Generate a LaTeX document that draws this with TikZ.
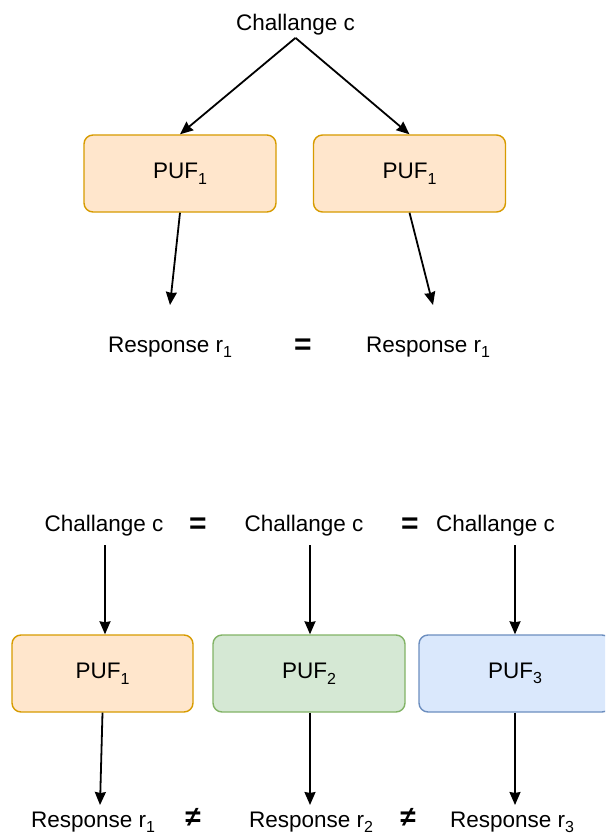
\documentclass[tikz,border=0pt]{standalone}
\usepackage{fontspec}
\setmainfont{Liberation Sans}
\usetikzlibrary{arrows.meta, positioning}

\definecolor{orangefill}{HTML}{FFE6CC}
\definecolor{orangeline}{HTML}{D79B00}
\definecolor{greenfill}{HTML}{D5E8D4}
\definecolor{greenline}{HTML}{82B366}
\definecolor{bluefill}{HTML}{DAE8FC}
\definecolor{blueline}{HTML}{6C8EBF}

\newcommand{\pufsub}[1]{\raisebox{-0.25em}{\fontsize{16}{18}\selectfont #1}}

\begin{document}
\begin{tikzpicture}[
  x=1pt, y=-1pt,
  every node/.style={font=\fontsize{22.5}{26}\selectfont, inner sep=2pt},
  label/.style={anchor=base},
  pufbox/.style={rectangle, rounded corners=9pt, line width=1.4pt,
    minimum width=192pt, minimum height=77pt},
  orangebox/.style={pufbox, fill=orangefill, draw=orangeline},
  greenbox/.style={pufbox, fill=greenfill, draw=greenline},
  bluebox/.style={pufbox, fill=bluefill, draw=blueline},
  relsign/.style={anchor=base, font=\fontsize{30}{32}\selectfont\bfseries},
  link/.style={line width=1.8pt, -{Stealth[length=13pt, width=11pt, inset=1pt]}}
]
\clip (0,0) rectangle (605,837);

% same challenge, same PUF
\node[label] (chal) at (295.5,31) {Challange c};
\node[orangebox] (pufa) at (180,173.5) {PUF\pufsub{1}};
\node[orangebox] (pufb) at (409.5,173.5) {PUF\pufsub{1}};
\node[label] (resa) at (170,352) {Response r\pufsub{1}};
\node[relsign] (eqtop) at (303,354) {=};
\node[label] (resb) at (428,352) {Response r\pufsub{1}};
\coordinate (enda) at (170,305);
\coordinate (endb) at (433,305);

\draw[link] (chal.south) -- (pufa.north);
\draw[link] (chal.south) -- (pufb.north);
\draw[link] (pufa.south) -- (enda);
\draw[link] (pufb.south) -- (endb);

% same challenge, different PUFs
\node[label] (cha) at (104,531) {Challange c};
\node[relsign] (eqa) at (198,533) {=};
\node[label] (chb) at (304,531) {Challange c};
\node[relsign] (eqb) at (410,533) {=};
\node[label] (chc) at (495.5,531) {Challange c};

\node[orangebox, minimum width=181pt] (puf1) at (102.5,673.5) {PUF\pufsub{1}};
\node[greenbox] (puf2) at (309,673.5) {PUF\pufsub{2}};
\node[bluebox] (puf3) at (515,673.5) {PUF\pufsub{3}};

\node[label] (res1) at (93,827) {Response r\pufsub{1}};
\node[relsign, font=\fontsize{28}{30}\selectfont\bfseries] (ne1) at (193,826) {≠};
\node[label] (res2) at (311,827) {Response r\pufsub{2}};
\node[relsign, font=\fontsize{28}{30}\selectfont\bfseries] (ne2) at (408,826) {≠};
\node[label] (res3) at (512,827) {Response r\pufsub{3}};

\coordinate (sta) at (105,545);
\coordinate (stb) at (310,545);
\coordinate (stc) at (515,545);
\coordinate (end1) at (100,805);
\coordinate (end2) at (310,805);
\coordinate (end3) at (515,805);

\draw[link] (sta) -- (sta |- puf1.north);
\draw[link] (stb) -- (stb |- puf2.north);
\draw[link] (stc) -- (stc |- puf3.north);
\draw[link] (puf1.south) -- (end1);
\draw[link] (puf2.south -| end2) -- (end2);
\draw[link] (puf3.south -| end3) -- (end3);
\end{tikzpicture}
\end{document}
